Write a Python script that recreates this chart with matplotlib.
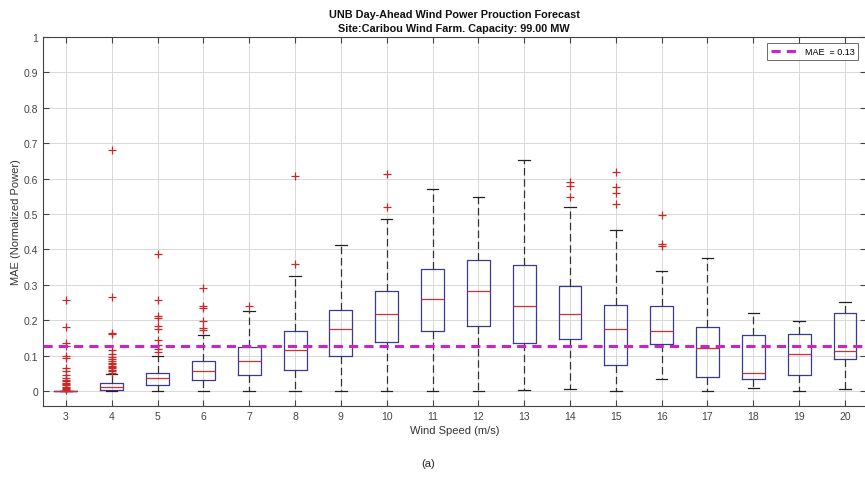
import numpy as np
import matplotlib
matplotlib.use('Agg')
import matplotlib.pyplot as plt

plt.rcParams['font.family'] = ['Liberation Sans', 'DejaVu Sans']

# Windgeschwindigkeiten (Klassen)
speeds = list(range(3, 21))

# Boxplot-Kennwerte
whislo = [0.0, 0.0, 0.0, 0.0, 0.0, 0.0, 0.0, 0.0, 0.0, 0.0, 0.002, 0.005, 0.0, 0.033, 0.0, 0.010, 0.0, 0.007]
q1 = [0.0, 0.003, 0.018, 0.030, 0.045, 0.060, 0.098, 0.139, 0.171, 0.185, 0.137, 0.146, 0.073, 0.134, 0.041, 0.035, 0.046, 0.090]
med = [0.0, 0.011, 0.037, 0.058, 0.084, 0.116, 0.174, 0.219, 0.259, 0.284, 0.241, 0.219, 0.174, 0.171, 0.123, 0.050, 0.105, 0.113]
q3 = [0.0, 0.023, 0.051, 0.085, 0.124, 0.171, 0.228, 0.284, 0.346, 0.371, 0.357, 0.298, 0.243, 0.241, 0.182, 0.159, 0.161, 0.221]
whishi = [0.0, 0.048, 0.100, 0.158, 0.226, 0.325, 0.412, 0.487, 0.570, 0.548, 0.653, 0.521, 0.454, 0.339, 0.376, 0.220, 0.197, 0.252]

# Ausreisser
fliers = [
    [0.257, 0.181, 0.136, 0.127, 0.098, 0.092, 0.065, 0.058, 0.044, 0.038, 0.032,
     0.028, 0.024, 0.020, 0.016, 0.012, 0.009, 0.006, 0.004],
    [0.681, 0.265, 0.165, 0.160, 0.115, 0.105, 0.097, 0.090, 0.085, 0.080, 0.076,
     0.072, 0.068, 0.064, 0.060, 0.056, 0.052],
    [0.386, 0.256, 0.211, 0.205, 0.183, 0.174, 0.143, 0.129, 0.120, 0.110],
    [0.292, 0.240, 0.235, 0.197, 0.178, 0.172],
    [0.240],
    [0.606, 0.358],
    [],
    [0.614, 0.521],
    [],
    [],
    [],
    [0.590, 0.578, 0.548],
    [0.620, 0.575, 0.560, 0.527],
    [0.497, 0.414, 0.411],
    [],
    [],
    [],
    [],
]

mae = 0.126
mae_label = "MAE  = 0.13"

stats = []
for i in range(len(speeds)):
    stats.append({'whislo': whislo[i], 'q1': q1[i], 'med': med[i], 'q3': q3[i],
                  'whishi': whishi[i], 'fliers': fliers[i]})

fig = plt.figure(figsize=(8.65, 4.81), dpi=100)
ax = fig.add_axes([0.0497, 0.154, 0.951, 0.767])

ax.bxp(stats, positions=speeds, widths=0.5, showfliers=True,
       boxprops=dict(color='#3a3a90', linewidth=0.9),
       medianprops=dict(color='#d03030', linewidth=0.9),
       whiskerprops=dict(color='#333333', linestyle=(0, (6, 3)), linewidth=0.9),
       capprops=dict(color='#222222', linewidth=0.9),
       flierprops=dict(marker='+', markeredgecolor='#c82828', markersize=5.5,
                       markeredgewidth=0.9, linestyle='none'))

ax.axhline(mae, color='#cc22cc', linestyle=(0, (3, 2)), linewidth=2.2, label=mae_label, zorder=5)

ax.set_xlim(2.5, 20.45)
ax.set_ylim(-0.042, 1.0)
ax.set_yticks(np.arange(0, 1.01, 0.1))
ax.set_yticklabels(['0', '0.1', '0.2', '0.3', '0.4', '0.5', '0.6', '0.7', '0.8', '0.9', '1'])
ax.set_xticks(speeds)
ax.set_xticklabels([str(s) for s in speeds])

ax.grid(True, color='#d8d8d8', linewidth=0.7)
ax.set_axisbelow(True)
ax.tick_params(direction='in', top=True, right=True, length=4, labelsize=7.5,
               colors='#444444', width=0.8)
for sp in ax.spines.values():
    sp.set_color('#444444')
    sp.set_linewidth(0.8)

ax.set_xlabel('Wind Speed (m/s)', fontsize=8, color='#333333', labelpad=3)
ax.set_ylabel('MAE (Normalized Power)', fontsize=8, color='#333333', labelpad=2)
ax.set_title('UNB Day-Ahead Wind Power Prouction Forecast\nSite:Caribou Wind Farm. Capacity: 99.00 MW',
             fontsize=7.8, fontweight='bold', color='#111111', pad=4, linespacing=1.5)

leg = ax.legend(loc='upper right', fontsize=6.5, frameon=True, fancybox=False,
                handlelength=3, borderpad=0.4, bbox_to_anchor=(0.9965, 0.995))
leg.get_frame().set_edgecolor('#444444')
leg.get_frame().set_linewidth(0.7)

fig.text(0.495, 0.035, '(a)', ha='center', va='center', fontsize=8, color='#222222')

fig.savefig('out.png', dpi=100)
